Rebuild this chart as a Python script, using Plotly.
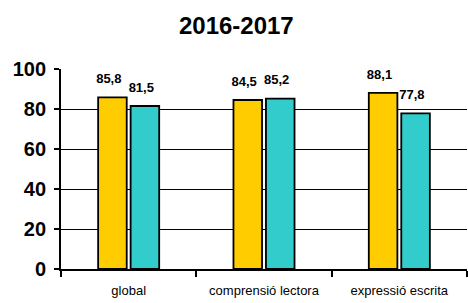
import plotly.graph_objects as go

categories = ["global", "comprensió lectora", "expressió escrita"]
series_a = [85.8, 84.5, 88.1]
series_b = [81.5, 85.2, 77.8]
y_ticks = [0, 20, 40, 60, 80, 100]
grid_ticks = [20, 40, 60, 80]

FONT = "Arial, Liberation Sans"

fig = go.Figure()
for name, vals, color in [("a", series_a, "#FFCC00"), ("b", series_b, "#33CCCC")]:
    fig.add_trace(go.Bar(
        x=categories, y=vals, offsetgroup=name,
        marker=dict(color=color, line=dict(color="black", width=1.8)),
        hoverinfo="skip",
    ))
for name, vals in [("a", series_a), ("b", series_b)]:
    fig.add_trace(go.Scatter(
        x=categories, y=vals, offsetgroup=name, mode="markers+text",
        marker=dict(size=16, opacity=0),
        texttemplate="%{y:.1f}&nbsp;&nbsp;", textposition="top center",
        textfont=dict(family=FONT, size=13, color="black", weight="bold"),
        cliponaxis=False, hoverinfo="skip", showlegend=False,
    ))
# helper trace so the grid axis gets drawn
fig.add_trace(go.Scatter(x=[categories[0]], y=[None], yaxis="y2", showlegend=False,
                         hoverinfo="skip", mode="markers"))

fig.update_layout(
    width=468, height=303,
    margin=dict(l=61, r=1, t=69, b=34),
    paper_bgcolor="white", plot_bgcolor="white",
    separators=",.",
    showlegend=False,
    barmode="group", scattermode="group",
    bargap=0.52, bargroupgap=0.12, scattergap=0.52,
    hovermode=False,
    title=dict(text="<b>2016-2017</b>", x=0.505, xanchor="center", y=0.917, yanchor="middle",
               font=dict(family=FONT, size=24, color="black")),
    font=dict(family=FONT, color="black"),
    yaxis2=dict(overlaying="y", range=[0, 100], tickvals=grid_ticks, showticklabels=False,
                showgrid=True, gridcolor="black", gridwidth=1.2, zeroline=False,
                showline=False, ticks="", automargin=False, layer="below traces"),
)
fig.update_xaxes(
    showline=True, linecolor="black", linewidth=1.8,
    ticks="outside", tickson="boundaries", ticklen=6, tickcolor="black", tickwidth=1.8,
    tickfont=dict(size=13, family=FONT, color="black"),
    ticklabelstandoff=8,
    showgrid=False, automargin=False,
)
fig.layout.yaxis.update(
    range=[0, 100], tickvals=y_ticks,
    showline=True, linecolor="black", linewidth=1.8,
    ticks="outside", ticklen=5, tickcolor="black", tickwidth=1.8,
    tickfont=dict(size=20, family=FONT, color="black", weight="bold"),
    ticklabelstandoff=4,
    showgrid=False, zeroline=False, automargin=False,
)
fig.write_html("out.html", config={"displayModeBar": False},
               post_script="document.body.style.margin='0';")
